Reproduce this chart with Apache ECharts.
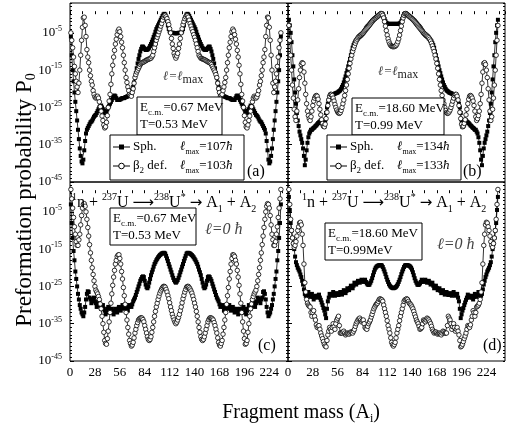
<!DOCTYPE html>
<html><head><meta charset="utf-8">
<script src="https://cdn.jsdelivr.net/npm/echarts@6/dist/echarts.min.js"></script>
<style>html,body{margin:0;padding:0;background:#fff}#c{width:507px;height:428px}</style>
</head><body><div id="c"></div>
<script>
// Fragment masses A1 = 1..237 (x categories)
const fragmentMass = Array.from({length: 237}, (_, i) => i + 1);
const xTickLabels = [0, 28, 56, 84, 112, 140, 168, 196, 224];
const yTickExponents = [-45, -35, -25, -15, -5];

// log10(P0) values
// (a) l = lmax, Ec.m.=0.67 MeV
const sphA = [
-6,-11,-15,-18,-21,-23.5,-26,-28.5,-31,-33.5,
-36,-38,-39.5,-40,-39,-36.5,-34,-32,-31,-30.5,
-30,-29.5,-29,-28.8,-28.5,-28,-27.5,-27.2,-27,-26.5,
-26,-25.5,-25,-24.7,-24.5,-25,-25.5,-26,-26.5,-26.3,
-26,-25.5,-25,-24.5,-24,-23.5,-23,-22.5,-22,-21.8,
-22,-22.5,-23,-23,-23,-22.9,-22.8,-22.6,-22.5,-22.5,
-22.5,-22.3,-22.2,-22.1,-22,-21.8,-21.5,-21.2,-21,-20.3,
-19.5,-18.3,-17,-15.8,-14.5,-13.2,-12,-11,-10,-9.3,
-8.7,-8.7,-9,-9.3,-9.6,-9.6,-9.5,-9.3,-9,-8.5,
-8,-7.4,-6.8,-6.1,-5.5,-4.7,-4,-3.5,-3,-2.5,
-2,-1.5,-1,-0.5,-0.1,0.1,-0.1,-0.8,-1.8,-3,
-4,-4.6,-4.9,-5,-5,-5,-5.1,-5.1,-5.1,
-5.1,-5.1,-5,-5,-5,-4.9,-4.6,-4,
-3,-1.8,-0.8,-0.1,0.1,-0.1,-0.5,-1,-1.5,-2,
-2.5,-3,-3.5,-4,-4.7,-5.5,-6.1,-6.8,-7.4,-8,
-8.5,-9,-9.3,-9.5,-9.6,-9.6,-9.3,-9,-8.7,-8.7,
-9.3,-10,-11,-12,-13.2,-14.5,-15.8,-17,-18.3,-19.5,
-20.3,-21,-21.2,-21.5,-21.8,-22,-22.1,-22.2,-22.3,-22.5,
-22.5,-22.5,-22.6,-22.8,-22.9,-23,-23,-23,-22.5,-22,
-21.8,-22,-22.5,-23,-23.5,-24,-24.5,-25,-25.5,-26,
-26.3,-26.5,-26,-25.5,-25,-24.5,-24.7,-25,-25.5,-26,
-26.5,-27,-27.2,-27.5,-28,-28.5,-28.8,-29,-29.5,-30,
-30.5,-31,-32,-34,-36.5,-39,-40,-39.5,-38,-36,
-33.5,-31,-28.5,-26,-23.5,-21,-18,-15,-11,-6];
const defA = [
-5,-7,-9,-11.5,-14,-16,-18,-19.5,-21,-18.5,
-15,-11,-7,-3.5,-1,-0.8,-3,-6,-9.5,-11.5,
-13,-15,-16.5,-18,-19,-20.5,-21.5,-22.2,-22.5,-22.3,
-22,-22.5,-23.5,-24.8,-26,-27.3,-28.5,-29.7,-30.5,-30.2,
-29,-27.2,-25,-23.3,-21.5,-18.8,-16,-13.7,-11.5,-9.7,
-8,-6.7,-5.5,-4.5,-4,-4.7,-6,-7.5,-9,-11,
-13,-15,-17,-18.3,-19.5,-20.5,-21.5,-21.8,-22,-21,
-20,-18.5,-17,-16.2,-15.5,-15,-14.5,-14,-13.5,-13.2,
-13,-12.9,-12.8,-12.6,-12.5,-12.3,-12.2,-12.1,-12,-11.9,
-11.8,-11.4,-11,-10,-9,-8,-7,-6.2,-5.5,-4.7,
-4,-3.2,-2.5,-1.6,-0.8,-0.4,-0.3,-0.7,-1.2,-2,
-2.8,-3.9,-5,-6.5,-8,-9.2,-10.5,-11.2,-11.8,
-11.2,-10.5,-9.2,-8,-6.5,-5,-3.9,-2.8,
-2,-1.2,-0.7,-0.3,-0.4,-0.8,-1.6,-2.5,-3.2,-4,
-4.7,-5.5,-6.2,-7,-8,-9,-10,-11,-11.4,-11.8,
-11.9,-12,-12.1,-12.2,-12.3,-12.5,-12.6,-12.8,-12.9,-13,
-13.2,-13.5,-14,-14.5,-15,-15.5,-16.2,-17,-18.5,-20,
-21,-22,-21.8,-21.5,-20.5,-19.5,-18.3,-17,-15,-13,
-11,-9,-7.5,-6,-4.7,-4,-4.5,-5.5,-6.7,-8,
-9.7,-11.5,-13.7,-16,-18.8,-21.5,-23.3,-25,-27.2,-29,
-30.2,-30.5,-29.7,-28.5,-27.3,-26,-24.8,-23.5,-22.5,-22,
-22.3,-22.5,-22.2,-21.5,-20.5,-19,-18,-16.5,-15,-13,
-11.5,-9.5,-6,-3,-0.8,-1,-3.5,-7,-11,-15,
-18.5,-21,-19.5,-18,-16,-14,-11.5,-9,-7,-5];
// (b) l = lmax, Ec.m.=18.60 MeV
const sphB = [
-1.5,-3,-5,-7.5,-11,-14,-17.5,-21,-24,-26.5,
-28.5,-30,-31.5,-32.5,-33.5,-34.5,-36,-38,-40.5,-39,
-36.5,-34.5,-33,-32,-31.5,-31,-31,-30.7,-30.5,-30.3,
-30,-29.8,-29.5,-29.2,-29,-28.8,-28.5,-29,-29.5,-30,
-30.2,-28.5,-26.5,-25,-24,-23,-22.5,-22,-21.8,-21.6,
-21.5,-21.4,-21.3,-21.2,-21.1,-21,-20.8,-20.6,-20.4,-20,
-19.5,-19,-18.3,-17.5,-16.7,-15.8,-15,-14,-13,-12,
-11,-10,-9,-8.3,-7.8,-7.3,-7,-6.7,-6.5,-6.2,
-6,-5.8,-5.6,-5.3,-5,-4.6,-4.2,-3.8,-3.5,-3.2,
-3,-2.7,-2.4,-2.1,-1.8,-1.6,-1.4,-1.2,-1,-0.8,
-0.6,-0.4,-0.2,0,0.2,0.2,0,-0.6,-1.3,-1.9,
-2.3,-2.5,-2.6,-2.6,-2.6,-2.6,-2.6,-2.6,-2.6,
-2.6,-2.6,-2.6,-2.6,-2.6,-2.6,-2.5,-2.3,
-1.9,-1.3,-0.6,0,0.2,0.2,0,-0.2,-0.4,-0.6,
-0.8,-1,-1.2,-1.4,-1.6,-1.8,-2.1,-2.4,-2.7,-3,
-3.2,-3.5,-3.8,-4.2,-4.6,-5,-5.3,-5.6,-5.8,-6,
-6.2,-6.5,-6.7,-7,-7.3,-7.8,-8.3,-9,-10,-11,
-12,-13,-14,-15,-15.8,-16.7,-17.5,-18.3,-19,-19.5,
-20,-20.4,-20.6,-20.8,-21,-21.1,-21.2,-21.3,-21.4,-21.5,
-21.6,-21.8,-22,-22.5,-23,-24,-25,-26.5,-28.5,-30.2,
-30,-29.5,-29,-28.5,-28.8,-29,-29.2,-29.5,-29.8,-30,
-30.3,-30.5,-30.7,-31,-31,-31.5,-32,-33,-34.5,-36.5,
-39,-40.5,-38,-36,-34.5,-33.5,-32.5,-31.5,-30,-28.5,
-26.5,-24,-21,-17.5,-14,-11,-7.5,-5,-3,-1.5];
const defB = [
-3,-7,-11,-15,-19,-22.5,-25.5,-27.5,-28.5,-26,
-23,-20,-17,-15,-13.5,-13,-13.2,-15.5,-18.5,-21.5,
-24,-26,-27.2,-28,-28.5,-27.5,-26,-24.5,-23.3,-22.5,
-22,-21.8,-22,-22.8,-24,-25.5,-27,-28.3,-29.3,-30,
-30.2,-29.5,-28,-26.3,-24.5,-23,-22,-21.5,-21.5,-21.8,
-22.5,-23.3,-24.2,-25,-25.7,-26.2,-26.5,-26.6,-26.4,-25.8,
-25,-24,-23,-21.8,-20.5,-19,-17.5,-16,-14.5,-13.2,
-12,-11,-10,-9.2,-8.5,-7.8,-7.2,-6.7,-6.3,-6,
-5.8,-5.6,-5.4,-5.2,-5,-4.7,-4.4,-4.1,-3.8,-3.5,
-3.2,-2.9,-2.6,-2.3,-2,-1.7,-1.4,-1.2,-1,-0.8,
-0.6,-0.4,-0.2,0,0.2,0.1,-0.3,-1,-2,-3.2,
-4.4,-5.6,-6.6,-7.4,-8,-8.4,-8.6,-8.7,-8.7,
-8.7,-8.6,-8.4,-8,-7.4,-6.6,-5.6,-4.4,
-3.2,-2,-1,-0.3,0.1,0.2,0,-0.2,-0.4,-0.6,
-0.8,-1,-1.2,-1.4,-1.7,-2,-2.3,-2.6,-2.9,-3.2,
-3.5,-3.8,-4.1,-4.4,-4.7,-5,-5.2,-5.4,-5.6,-5.8,
-6,-6.3,-6.7,-7.2,-7.8,-8.5,-9.2,-10,-11,-12,
-13.2,-14.5,-16,-17.5,-19,-20.5,-21.8,-23,-24,-25,
-25.8,-26.4,-26.6,-26.5,-26.2,-25.7,-25,-24.2,-23.3,-22.5,
-21.8,-21.5,-21.5,-22,-23,-24.5,-26.3,-28,-29.5,-30.2,
-30,-29.3,-28.3,-27,-25.5,-24,-22.8,-22,-21.8,-22,
-22.5,-23.3,-24.5,-26,-27.5,-28.5,-28,-27.2,-26,-24,
-21.5,-18.5,-15.5,-13.2,-13,-13.5,-15,-17,-20,-23,
-26,-28.5,-27.5,-25.5,-22.5,-19,-15,-11,-7,-3];
// (c) l = 0, Ec.m.=0.67 MeV
const sphC = [
-3,-8,-12,-15.5,-18,-21,-23,-25,-27,-28.5,
-30,-31,-32,-32.5,-33,-32,-30.5,-28.5,-27,-26.3,
-26.5,-28,-28.5,-29.5,-29,-28.3,-28,-29,-29.5,-30.5,
-30,-29.3,-29,-30.2,-31,-30.5,-30,-31,-31.5,-32.5,
-32,-31,-30.5,-31.5,-32,-31.5,-31,-32,-32.5,-31.5,
-31,-31.8,-32,-31,-30.5,-31,-31.5,-30.8,-30,-30.5,
-31,-30.5,-30,-31,-31.5,-30.5,-30,-30.3,-30.5,-29.8,
-29,-28.5,-28,-27.3,-26.5,-25.8,-25,-24.3,-23.5,-23,
-22.5,-22.3,-22.5,-23.5,-24.5,-25.2,-25.5,-25,-24,-23,
-22,-21.2,-20.5,-19.7,-19,-18.5,-18,-17.6,-17.2,-16.9,
-16.6,-16.4,-16.2,-16.1,-16,-16,-16.2,-16.8,-17.5,-18.2,
-19,-19.7,-20.5,-21.2,-22,-22.7,-23.3,-23.7,-24,
-23.7,-23.3,-22.7,-22,-21.2,-20.5,-19.7,-19,
-18.2,-17.5,-16.8,-16.2,-16,-16,-16.1,-16.2,-16.4,-16.6,
-16.9,-17.2,-17.6,-18,-18.5,-19,-19.7,-20.5,-21.2,-22,
-23,-24,-25,-25.5,-25.2,-24.5,-23.5,-22.5,-22.3,-22.5,
-23,-23.5,-24.3,-25,-25.8,-26.5,-27.3,-28,-28.5,-29,
-29.8,-30.5,-30.3,-30,-30.5,-31.5,-31,-30,-30.5,-31,
-30.5,-30,-30.8,-31.5,-31,-30.5,-31,-32,-31.8,-31,
-31.5,-32.5,-32,-31,-31.5,-32,-31.5,-30.5,-31,-32,
-32.5,-31.5,-31,-30,-30.5,-31,-30.2,-29,-29.3,-30,
-30.5,-29.5,-29,-28,-28.3,-29,-29.5,-28.5,-28,-26.5,
-26.3,-27,-28.5,-30.5,-32,-33,-32.5,-32,-31,-30,
-28.5,-27,-25,-23,-21,-18,-15.5,-12,-8,-3];
const defC = [
1,-1.5,-4,-6.5,-9,-11,-13,-14,-14,-12.5,
-11,-8.5,-6,-4,-3,-2.8,-3.5,-5,-7,-9.2,
-11.5,-13.8,-16,-18,-20,-21.8,-23.5,-25,-26,-26.5,
-27,-27.7,-28.5,-29.7,-31,-33,-35,-37.3,-39.5,-40.3,
-40.5,-39,-37,-34.5,-32,-29.5,-27,-24.7,-22.5,-20.7,
-19,-18,-17,-16.6,-16.5,-17.5,-19,-21,-23,-25.3,
-27.5,-29.8,-32,-34,-36,-37.8,-39.5,-40.3,-41,-40.7,
-40,-38.8,-37.5,-36.5,-35.5,-34.7,-34,-33.7,-33.5,-33.4,
-33.5,-33.9,-34.5,-35.5,-36.5,-37.5,-38.5,-39.2,-39.5,-39.2,
-38.5,-37.3,-36,-34.5,-33,-31.7,-30.5,-29.5,-28.5,-27.6,
-26.8,-26.2,-25.7,-25.3,-25,-25,-25.2,-25.8,-26.5,-27.4,
-28.3,-29.4,-30.5,-31.5,-32.5,-33.3,-34,-34.6,-35,
-34.6,-34,-33.3,-32.5,-31.5,-30.5,-29.4,-28.3,
-27.4,-26.5,-25.8,-25.2,-25,-25,-25.3,-25.7,-26.2,-26.8,
-27.6,-28.5,-29.5,-30.5,-31.7,-33,-34.5,-36,-37.3,-38.5,
-39.2,-39.5,-39.2,-38.5,-37.5,-36.5,-35.5,-34.5,-33.9,-33.5,
-33.4,-33.5,-33.7,-34,-34.7,-35.5,-36.5,-37.5,-38.8,-40,
-40.7,-41,-40.3,-39.5,-37.8,-36,-34,-32,-29.8,-27.5,
-25.3,-23,-21,-19,-17.5,-16.5,-16.6,-17,-18,-19,
-20.7,-22.5,-24.7,-27,-29.5,-32,-34.5,-37,-39,-40.5,
-40.3,-39.5,-37.3,-35,-33,-31,-29.7,-28.5,-27.7,-27,
-26.5,-26,-25,-23.5,-21.8,-20,-18,-16,-13.8,-11.5,
-9.2,-7,-5,-3.5,-2.8,-3,-4,-6,-8.5,-11,
-12.5,-14,-14,-13,-11,-9,-6.5,-4,-1.5,1];
// (d) l = 0, Ec.m.=18.60 MeV
const sphD = [
-1,-4.5,-8,-10,-12,-13.5,-15,-17,-18.5,-19.3,
-20,-20.5,-21,-21.8,-22.5,-23.5,-24.5,-25.8,-27,-27.5,
-27.5,-27,-26.5,-27.3,-27.8,-27.3,-27,-27.8,-28.5,-28,
-27.5,-27.8,-28,-27.5,-27.2,-28,-28.6,-29.3,-30,-30.8,
-31.5,-32.5,-33.5,-31,-29,-28,-27,-27.3,-27.5,-27,
-26.5,-27,-27.5,-27.2,-26.8,-27,-27.3,-26.9,-26.5,-26.9,
-27.2,-26.6,-26,-26.4,-26.8,-26.2,-25.5,-25.8,-26,-25.4,
-24.8,-25.2,-25.5,-24.8,-24,-24.3,-24.5,-24,-23.5,-23.8,
-24,-23.6,-23.2,-23.5,-23.8,-23.5,-23.2,-23.8,-24.2,-24.5,
-24.6,-24.5,-24,-23.5,-22.8,-22,-21.2,-20.5,-20,-19.7,
-19.5,-19.4,-19.3,-19.3,-19.3,-19.4,-19.8,-20.4,-21,-21.7,
-22.5,-23.2,-23.8,-24.4,-24.8,-25.1,-25.3,-25.4,-25.5,
-25.4,-25.3,-25.1,-24.8,-24.4,-23.8,-23.2,-22.5,
-21.7,-21,-20.4,-19.8,-19.4,-19.3,-19.3,-19.3,-19.4,-19.5,
-19.7,-20,-20.5,-21.2,-22,-22.8,-23.5,-24,-24.5,-24.6,
-24.5,-24.2,-23.8,-23.2,-23.5,-23.8,-23.5,-23.2,-23.6,-24,
-23.8,-23.5,-24,-24.5,-24.3,-24,-24.8,-25.5,-25.2,-24.8,
-25.4,-26,-25.8,-25.5,-26.2,-26.8,-26.4,-26,-26.6,-27.2,
-26.9,-26.5,-26.9,-27.3,-27,-26.8,-27.2,-27.5,-27,-26.5,
-27,-27.5,-27.3,-27,-28,-29,-31,-33.5,-32.5,-31.5,
-30.8,-30,-29.3,-28.6,-28,-27.2,-27.5,-28,-27.8,-27.5,
-28,-28.5,-27.8,-27,-27.3,-27.8,-27.3,-26.5,-27,-27.5,
-27.5,-27,-25.8,-24.5,-23.5,-22.5,-21.8,-21,-20.5,-20,
-19.3,-18.5,-17,-15,-13.5,-12,-10,-8,-4.5,-1];
const defD = [
1,-3,-7,-10,-12,-13.5,-14.5,-14,-13,-11.5,
-10,-9,-8,-7.8,-8.5,-11,-14,-19,-24,-26.5,
-28.5,-29.5,-30,-30.3,-30.5,-32,-33,-32,-31.5,-33,
-34,-35.3,-36,-35.7,-35.5,-36.5,-37.5,-38.3,-39,-39.8,
-40.5,-41,-41.2,-39.5,-38,-37,-36,-36.5,-37,-36,
-35,-35.8,-36.5,-35,-34,-33.5,-33,-35.5,-37.5,-37.5,
-37.5,-37.2,-37,-37.5,-38,-37.7,-37.5,-37.6,-37.8,-37.5,
-37.2,-37.3,-37.5,-37,-36.5,-35.7,-35,-34.5,-34,-33.7,
-33.5,-34,-34.5,-34.2,-34,-35,-36,-36.3,-36.5,-35.7,
-35,-34.5,-34,-33.2,-32.5,-31.7,-31,-30.5,-30,-29.7,
-29.5,-29,-28.5,-28.3,-28.5,-28.6,-29,-30,-31,-32,
-33,-34.2,-35.5,-36.5,-37.5,-38.8,-40,-40.6,-41,
-40.6,-40,-38.8,-37.5,-36.5,-35.5,-34.2,-33,
-32,-31,-30,-29,-28.6,-28.5,-28.3,-28.5,-29,-29.5,
-29.7,-30,-30.5,-31,-31.7,-32.5,-33.2,-34,-34.5,-35,
-35.7,-36.5,-36.3,-36,-35,-34,-34.2,-34.5,-34,-33.5,
-33.7,-34,-34.5,-35,-35.7,-36.5,-37,-37.5,-37.3,-37.2,
-37.5,-37.8,-37.6,-37.5,-37.7,-38,-37.5,-37,-37.2,-37.5,
-37.5,-37.5,-35.5,-33,-33.5,-34,-35,-36.5,-35.8,-35,
-36,-37,-36.5,-36,-37,-38,-39.5,-41.2,-41,-40.5,
-39.8,-39,-38.3,-37.5,-36.5,-35.5,-35.7,-36,-35.3,-34,
-33,-31.5,-32,-33,-32,-30.5,-30.3,-30,-29.5,-28.5,
-26.5,-24,-19,-14,-11,-8.5,-7.8,-8,-9,-10,
-11.5,-13,-14,-14.5,-13.5,-12,-10,-7,-3,1];

const F = '"Liberation Serif","Times New Roman",serif';
const chart = echarts.init(document.getElementById('c'), null, {renderer: 'canvas'});

const gridBoxes = [
  {left: 70, top: 3, width: 218, height: 179},
  {left: 288, top: 3, width: 217, height: 179},
  {left: 70, top: 182, width: 218, height: 179},
  {left: 288, top: 182, width: 217, height: 179}
];
const panelData = [[sphA, defA], [sphB, defB], [sphC, defC], [sphD, defD]];

const grid = gridBoxes.map(g => Object.assign({show: true, borderColor: '#000', borderWidth: 1, backgroundColor: 'transparent', containLabel: false}, g));
const xAxis = [], yAxis = [], series = [];
gridBoxes.forEach((g, i) => {
  const showX = i >= 2, showY = (i % 2 === 0);
  const base = {gridIndex: i, type: 'value', min: 0, max: 245, interval: 14,
    axisLine: {show: false}, splitLine: {show: false}, minorSplitLine: {show: false}};
  xAxis.push(Object.assign({}, base, {position: 'bottom',
    axisTick: {inside: true, length: 3, lineStyle: {color: '#000', width: 1}},
    axisLabel: {show: showX, margin: 5, color: '#000', fontFamily: F, fontSize: 13,
      showMaxLabel: false,
      formatter: v => xTickLabels.includes(v) ? String(v) : ''}}));
  xAxis.push(Object.assign({}, base, {position: 'top',
    axisTick: {show: false},
    axisLabel: {show: false}}));
  const yb = {gridIndex: i, type: 'value', min: -45, max: 3,
    axisLine: {show: false}, splitLine: {show: false}};
  yAxis.push(Object.assign({}, yb, {position: 'left', interval: 10,
    axisTick: {inside: true, length: 4, lineStyle: {color: '#000'}},
    axisLabel: {show: showY, margin: 8, color: '#000', fontFamily: F, fontSize: 13,
      showMaxLabel: false,
      formatter: v => yTickExponents.includes(v) ? '{n|10}{s|' + v + '}' : '',
      rich: {n: {fontFamily: F, fontSize: 13, lineHeight: 16, verticalAlign: 'middle', color: '#000'},
             s: {fontFamily: F, fontSize: 8, lineHeight: 8, verticalAlign: 'top', color: '#000'}}}}));
  yAxis.push(Object.assign({}, yb, {position: 'left', interval: 1,
    axisTick: {inside: true, length: 2, lineStyle: {color: '#000'}}, axisLabel: {show: false}}));
  yAxis.push(Object.assign({}, yb, {position: 'right', interval: 1,
    axisTick: {inside: true, length: 2, lineStyle: {color: '#000'}}, axisLabel: {show: false}}));
  const [sph, def] = panelData[i];
  series.push({type: 'line', name: 'Sph.', xAxisIndex: 2 * i, yAxisIndex: 3 * i,
    data: fragmentMass.map((a, k) => [a, sph[k]]),
    symbol: 'rect', symbolSize: 4, showAllSymbol: true, animation: false, z: 2,
    lineStyle: {color: '#000', width: 0.8}, itemStyle: {color: '#000'}});
  series.push({type: 'line', name: 'β2 def.', xAxisIndex: 2 * i, yAxisIndex: 3 * i,
    data: fragmentMass.map((a, k) => [a, def[k]]),
    symbol: 'circle', symbolSize: 4.5, showAllSymbol: true, animation: false, z: 3,
    lineStyle: {color: '#000', width: 0.8}, itemStyle: {color: '#fff', borderColor: '#000', borderWidth: 0.8}});
});

const RICH = {
  sp: {fontFamily: F, fontSize: 9, lineHeight: 9, verticalAlign: 'top', fill: '#000'},
  sb: {fontFamily: F, fontSize: 9, lineHeight: 9, verticalAlign: 'bottom', fill: '#000'},
  i: {fontFamily: F, fontSize: 13, fontStyle: 'italic', lineHeight: 18, verticalAlign: 'middle', fill: '#000'},
  ms: {fontFamily: F, fontSize: 8, lineHeight: 8, verticalAlign: 'bottom', fill: '#000'},
  g: {fontFamily: F, fontSize: 13, fontStyle: 'italic', lineHeight: 18, verticalAlign: 'middle', fill: '#444'},
  gm: {fontFamily: F, fontSize: 12, lineHeight: 9, verticalAlign: 'bottom', fill: '#222'},
  gi: {fontFamily: F, fontSize: 16, fontStyle: 'italic', lineHeight: 20, verticalAlign: 'middle', fill: '#444'},
  rs: {fontFamily: F, fontSize: 10, lineHeight: 10, verticalAlign: 'top', fill: '#000'},
  rb: {fontFamily: F, fontSize: 10, lineHeight: 10, verticalAlign: 'bottom', fill: '#000'},
  ar: {fontFamily: '"DejaVu Sans",sans-serif', fontSize: 15, lineHeight: 22, verticalAlign: 'middle', fill: '#000'}
};
function T(x, y, text, size, extra) {
  return Object.assign({type: 'text', x, y, z: 100, silent: true,
    style: {text, fontFamily: F, fontSize: size || 13, lineHeight: Math.round((size || 13) * 1.4),
      fill: '#000', align: 'left', verticalAlign: 'middle', rich: RICH}}, extra || {});
}
function box(x, y, w, h) {
  return {type: 'rect', z: 99, silent: true, shape: {x, y, width: w, height: h},
    style: {fill: '#fff', stroke: '#000', lineWidth: 1}};
}
function energyBox(x, y, w, h, e, t) {
  return [box(x, y, w, h),
    T(x + 3, y + 11, 'E{sb|c.m.}=' + e + ' MeV', 13),
    T(x + 3, y + 28, t, 13)];
}
function legendBox(x, y, lmaxS, lmaxD) {
  const els = [box(x, y, 134, 45)];
  const r1 = y + 12, r2 = y + 31;
  els.push({type: 'line', z: 100, shape: {x1: x + 3, y1: r1, x2: x + 20, y2: r1}, style: {stroke: '#000', lineWidth: 1}});
  els.push({type: 'rect', z: 101, shape: {x: x + 9, y: r1 - 2.5, width: 5, height: 5}, style: {fill: '#000'}});
  els.push({type: 'line', z: 100, shape: {x1: x + 3, y1: r2, x2: x + 20, y2: r2}, style: {stroke: '#000', lineWidth: 1}});
  els.push({type: 'circle', z: 101, shape: {cx: x + 11.5, cy: r2, r: 2.8}, style: {fill: '#fff', stroke: '#000', lineWidth: 1}});
  els.push(T(x + 23, r1, 'Sph.', 13));
  els.push(T(x + 23, r2, 'β{sb|2} def.', 13));
  els.push(T(x + 70, r1, '{i|ℓ}{ms|max}=' + lmaxS + '{i|ħ}', 13));
  els.push(T(x + 70, r2, '{i|ℓ}{ms|max}=' + lmaxD + '{i|ħ}', 13));
  return els;
}
const reaction = '{rs|1}n + {rs|237}U {ar|⟶}{rs|238}U{rs|*} {ar|→} A{rb|1} + A{rb|2}';

const graphic = [].concat(
  // panel (a)
  [T(163, 77, '{g|ℓ=ℓ}{gm|max}', 13)],
  energyBox(137, 97, 85, 38, '0.67', 'T=0.53 MeV'),
  legendBox(110, 135, '107', '103'),
  [T(247, 172, '(a)', 16)],
  // panel (b)
  [T(378, 72, '{g|ℓ=ℓ}{gm|max}', 13)],
  energyBox(352, 98, 92, 37, '18.60', 'T=0.99 MeV'),
  legendBox(327, 135, '134', '133'),
  [T(463, 172, '(b)', 16)],
  // panel (c)
  [T(72, 203, reaction, 16)],
  energyBox(110, 208, 86, 37, '0.67', 'T=0.53 MeV'),
  [T(205, 230, '{gi|ℓ=0 ħ}', 16)],
  [T(258, 346, '(c)', 16)],
  // panel (d)
  [T(302, 203, reaction, 16)],
  energyBox(325, 223, 97, 37, '18.60', 'T=0.99MeV'),
  [T(437, 245, '{gi|ℓ=0 ħ}', 16)],
  [T(483, 346, '(d)', 16)],
  // axis titles
  [{type: 'text', x: 25, y: 200, rotation: Math.PI / 2, z: 100, silent: true,
    style: {text: 'Preformation probability P{b|0}', fontFamily: F, fontSize: 23, lineHeight: 27,
      fill: '#000', align: 'center', verticalAlign: 'middle',
      rich: {b: {fontFamily: F, fontSize: 14, lineHeight: 12, verticalAlign: 'bottom', fill: '#000'}}}},
   {type: 'text', x: 301, y: 413, z: 100, silent: true,
    style: {text: 'Fragment mass (A{b|i})', fontFamily: F, fontSize: 20, lineHeight: 24,
      fill: '#000', align: 'center', verticalAlign: 'middle',
      rich: {b: {fontFamily: F, fontSize: 12, lineHeight: 10, verticalAlign: 'bottom', fill: '#000'}}}}]
);

chart.setOption({
  animation: false,
  backgroundColor: '#fff',
  textStyle: {fontFamily: F},
  grid, xAxis, yAxis, series, graphic
});
</script>
</body></html>
